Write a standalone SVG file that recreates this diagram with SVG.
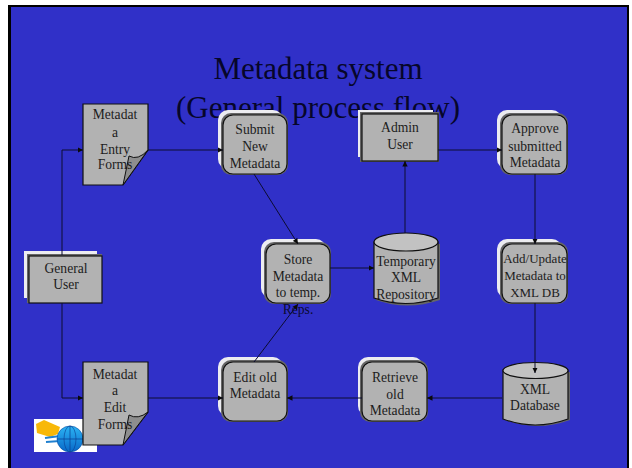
<svg xmlns="http://www.w3.org/2000/svg" width="632" height="468" viewBox="0 0 632 468">
<defs>
<marker id="a" markerUnits="userSpaceOnUse" markerWidth="6" markerHeight="6" refX="5.5" refY="3" orient="auto"><path d="M0 .3L5.5 3L0 5.7z" fill="#0a0a0a"/></marker>
<linearGradient id="g" x1="0" y1="0" x2="0" y2="1"><stop offset="0" stop-color="#2cb4f4"/><stop offset="1" stop-color="#0868c8"/></linearGradient>
</defs>
<style>
text{font-family:"Liberation Serif","Times New Roman",serif;text-anchor:middle;fill:#1c1c1c;font-size:13.6px}
.t{font-size:31px;fill:#06062a}
.d{fill:#0a0a30}
.n{font-size:13px}
.b{fill:#b2b2b2;stroke:#101010;stroke-width:1.2}
.s{fill:#666}
.w{fill:#ececf0}
.c{fill:none;stroke:#0c0c30;stroke-width:1}
.f{fill:#8e8e8e;stroke:#101010;stroke-width:1}
.e{fill:#c2c2c2;stroke:#101010;stroke-width:1.2}
</style>
<rect width="632" height="468" fill="#fff"/>
<rect x="8" y="5" width="621" height="463" fill="#000"/>
<rect x="11" y="7" width="616" height="461" fill="#3030c8"/>
<g id="title"><text class="t" x="318" y="79">Metadata system</text><text class="t" x="318" y="118">(General process flow)</text></g>
<g id="logo"><rect x="34" y="419" width="63" height="33" fill="#fff"/><path d="M36 424L44 420L60 427L58 434L50 437L37 433z" fill="#f8b808"/><path d="M45 438L60 436M46 442L60 441" stroke="#2080d0" stroke-width="2.2"/><circle cx="70" cy="439" r="13" fill="url(#g)" stroke="#0a4ca0" stroke-width=".6"/><path d="M57 439H83M70 426V452" stroke="#0a3c90" stroke-width=".7"/><ellipse cx="70" cy="439" rx="6" ry="13" fill="none" stroke="#0a3c90" stroke-width=".6"/></g>
<g id="general-user"><rect class="w" x="24" y="251" width="73" height="47"/><rect class="s" x="27" y="254" width="75" height="49"/><rect class="b" x="29" y="256" width="73" height="47"/><text x="66" y="273">General</text><text x="66" y="289">User</text></g>
<g id="entry-forms"><path class="b" d="M83 104H148V150L123 185H83z"/><path class="f" d="M123 185L129 156Q138 161 148 150z"/><text x="115" y="119">Metadat</text><text x="115" y="137">a</text><text x="115" y="154">Entry</text><text x="115" y="169">Forms</text></g>
<g id="edit-forms"><path class="b" d="M83 362H148V412L123 445H83z"/><path class="f" d="M123 445L129 415Q138 420 148 412z"/><text x="115" y="379">Metadat</text><text x="115" y="395">a</text><text x="115" y="412">Edit</text><text x="115" y="429">Forms</text></g>
<g id="submit"><rect class="w" x="218" y="110" width="65" height="59" rx="10"/><rect class="s" x="221" y="113" width="67" height="62" rx="10"/><rect class="b" x="223" y="115" width="64" height="59" rx="10"/><text x="255" y="134">Submit</text><text x="255" y="151">New</text><text x="255" y="168">Metadata</text></g>
<g id="store"><rect class="w" x="261" y="239" width="65" height="59" rx="10"/><rect class="s" x="264" y="242" width="67" height="62" rx="10"/><rect class="b" x="266" y="244" width="64" height="59" rx="10"/><text x="298" y="264">Store</text><text x="298" y="281">Metadata</text><text x="298" y="297">to temp.</text><text class="d" x="298" y="314">Reps.</text></g>
<g id="temp-repo"><path class="s" d="M376 244V300Q407 311 440 300V244z"/><path class="b" d="M374 242V298Q405 309 438 298V242z"/><ellipse class="e" cx="406" cy="242" rx="32" ry="9"/><text x="406" y="266">Temporary</text><text x="406" y="282">XML</text><text x="406" y="299">Repository</text></g>
<g id="admin"><rect class="w" x="358" y="110" width="75" height="47"/><rect class="s" x="360" y="112" width="79" height="50"/><rect class="b" x="362" y="114" width="76" height="47"/><text x="400" y="132">Admin</text><text x="400" y="149">User</text></g>
<g id="approve"><rect class="w" x="497" y="110" width="65" height="59" rx="10"/><rect class="s" x="500" y="113" width="68" height="62" rx="10"/><rect class="b" x="502" y="115" width="65" height="59" rx="10"/><text x="535" y="133">Approve</text><text x="535" y="151">submitted</text><text x="535" y="167">Metadata</text></g>
<g id="add-update"><rect class="w" x="497" y="239" width="65" height="59" rx="10"/><rect class="s" x="500" y="242" width="68" height="62" rx="10"/><rect class="b" x="502" y="244" width="65" height="59" rx="10"/><text class="n" x="535" y="263">Add/Update</text><text class="n" x="535" y="280">Metadata to</text><text class="n" x="535" y="297">XML DB</text></g>
<g id="xml-db"><path class="s" d="M505 372V420Q537 432 570 420V372z"/><path class="b" d="M503 370V419Q535 431 568 419V370z"/><ellipse class="e" cx="535.500" cy="370.500" rx="32.500" ry="8"/><text x="535" y="394">XML</text><text x="535" y="410">Database</text></g>
<g id="retrieve"><rect class="w" x="358" y="357" width="65" height="59" rx="10"/><rect class="s" x="360" y="360" width="68" height="62" rx="10"/><rect class="b" x="362" y="362" width="65" height="59" rx="10"/><text x="395" y="382">Retrieve</text><text x="395" y="399">old</text><text x="395" y="415">Metadata</text></g>
<g id="edit-old"><rect class="w" x="218" y="357" width="65" height="59" rx="10"/><rect class="s" x="221" y="360" width="67" height="62" rx="10"/><rect class="b" x="223" y="362" width="64" height="59" rx="10"/><text x="255" y="382">Edit old</text><text x="255" y="398">Metadata</text></g>
<g id="connectors">
<path class="c" d="M62 255V150H83" marker-end="url(#a)"/>
<path class="c" d="M62 303V398H83" marker-end="url(#a)"/>
<path class="c" d="M148 150H223" marker-end="url(#a)"/>
<path class="c" d="M148 398H223" marker-end="url(#a)"/>
<path class="c" d="M254 174L298 244" marker-end="url(#a)"/>
<path class="c" d="M254 362L298 304" marker-end="url(#a)"/>
<path class="c" d="M330 268H374" marker-end="url(#a)"/>
<path class="c" d="M405 233V161" marker-end="url(#a)"/>
<path class="c" d="M438 150H502" marker-end="url(#a)"/>
<path class="c" d="M535 174V244" marker-end="url(#a)"/>
<path class="c" d="M535 303V373" marker-end="url(#a)"/>
<path class="c" d="M502 398H427" marker-end="url(#a)"/>
<path class="c" d="M362 398H287" marker-end="url(#a)"/>
</g>
</svg>
